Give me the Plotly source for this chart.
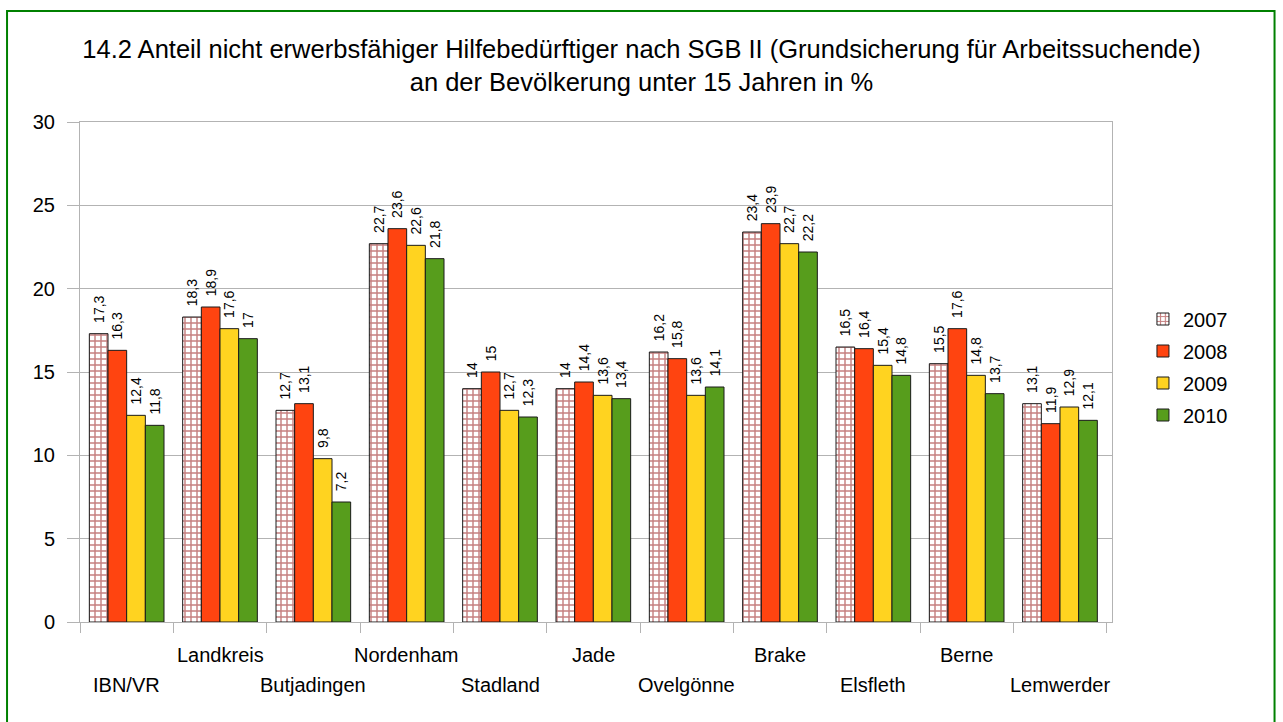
import plotly.graph_objects as go

categories = ["IBN/VR", "Landkreis", "Butjadingen", "Nordenham", "Stadland", "Jade",
              "Ovelgönne", "Brake", "Elsfleth", "Berne", "Lemwerder"]
years = ["2007", "2008", "2009", "2010"]
v2007 = [17.3, 18.3, 12.7, 22.7, 14.0, 14.0, 16.2, 23.4, 16.5, 15.5, 13.1]
v2008 = [16.3, 18.9, 13.1, 23.6, 15.0, 14.4, 15.8, 23.9, 16.4, 17.6, 11.9]
v2009 = [12.4, 17.6, 9.8, 22.6, 12.7, 13.6, 13.6, 22.7, 15.4, 14.8, 12.9]
v2010 = [11.8, 17.0, 7.2, 21.8, 12.3, 13.4, 14.1, 22.2, 14.8, 13.7, 12.1]
series = [v2007, v2008, v2009, v2010]
y_ticks = [0, 5, 10, 15, 20, 25, 30]

colors = ["#FFFFFF", "#FF4410", "#FFD320", "#579D1C"]
FONT = "Liberation Sans, Arial, sans-serif"


def fmt(v):
    return "\u00a0\u00a0" + ("%g" % v).replace(".", ",")


fig = go.Figure()
for i, (yr, vals) in enumerate(zip(years, series)):
    marker = dict(color=colors[i], line=dict(color="#1A1A1A", width=1))
    if i == 0:
        marker["pattern"] = dict(shape="+", fgcolor="#8B0000", bgcolor="#FFFFFF",
                                 size=6, solidity=0.42, fillmode="overlay")
    fig.add_trace(go.Bar(
        name=yr, x=categories, y=vals, marker=marker,
        text=[fmt(v) for v in vals], textposition="outside", textangle=-90,
        constraintext="none",
        textfont=dict(family=FONT, size=14, color="#000000"),
        cliponaxis=False, legendgroup=yr,
    ))

# staggered category labels
for j, c in enumerate(categories):
    fig.add_annotation(x=c, xref="x", yref="paper",
                       y=-0.066 if j % 2 == 1 else -0.126,
                       text=c, showarrow=False, yanchor="middle",
                       font=dict(family=FONT, size=20, color="#000000"))

# outer green frame
fig.add_shape(type="rect", xref="paper", yref="paper",
              x0=-0.0707, x1=1.1575, y0=-0.21, y1=1.222,
              line=dict(color="#008000", width=2), fillcolor="rgba(0,0,0,0)", layer="below")

fig.update_layout(
    width=1283, height=722,
    margin=dict(l=80, r=171, t=122, b=100),
    paper_bgcolor="#FFFFFF", plot_bgcolor="#FFFFFF",
    barmode="group", bargap=0.2, bargroupgap=0.0,
    font=dict(family=FONT, size=20, color="#000000"),
    title=dict(text="14.2 Anteil nicht erwerbsfähiger Hilfebedürftiger nach SGB II (Grundsicherung für Arbeitssuchende)<br>an der Bevölkerung unter 15 Jahren in %",
               x=0.5, xanchor="center", y=0.92, yanchor="middle",
               font=dict(family=FONT, size=25.5, color="#000000")),
    legend=dict(x=1.03, y=0.51, xanchor="left", yanchor="middle",
                font=dict(family=FONT, size=20), tracegroupgap=3,
                bgcolor="rgba(0,0,0,0)"),
    xaxis=dict(showticklabels=False, ticks="outside", tickson="boundaries",
               ticklen=10, tickcolor="#B3B3B3", showline=True, linecolor="#B3B3B3",
               mirror=True, showgrid=False),
    yaxis=dict(range=[0, 30], tickvals=y_ticks, ticks="outside", ticklen=12,
               ticklabelstandoff=8,
               tickcolor="#B3B3B3", showline=True, linecolor="#B3B3B3", mirror=True,
               gridcolor="#B3B3B3", gridwidth=1, zeroline=False,
               tickfont=dict(family=FONT, size=20)),
)

fig.write_html("out.html", config={"displayModeBar": False},
               post_script="document.body.style.margin='0';")
